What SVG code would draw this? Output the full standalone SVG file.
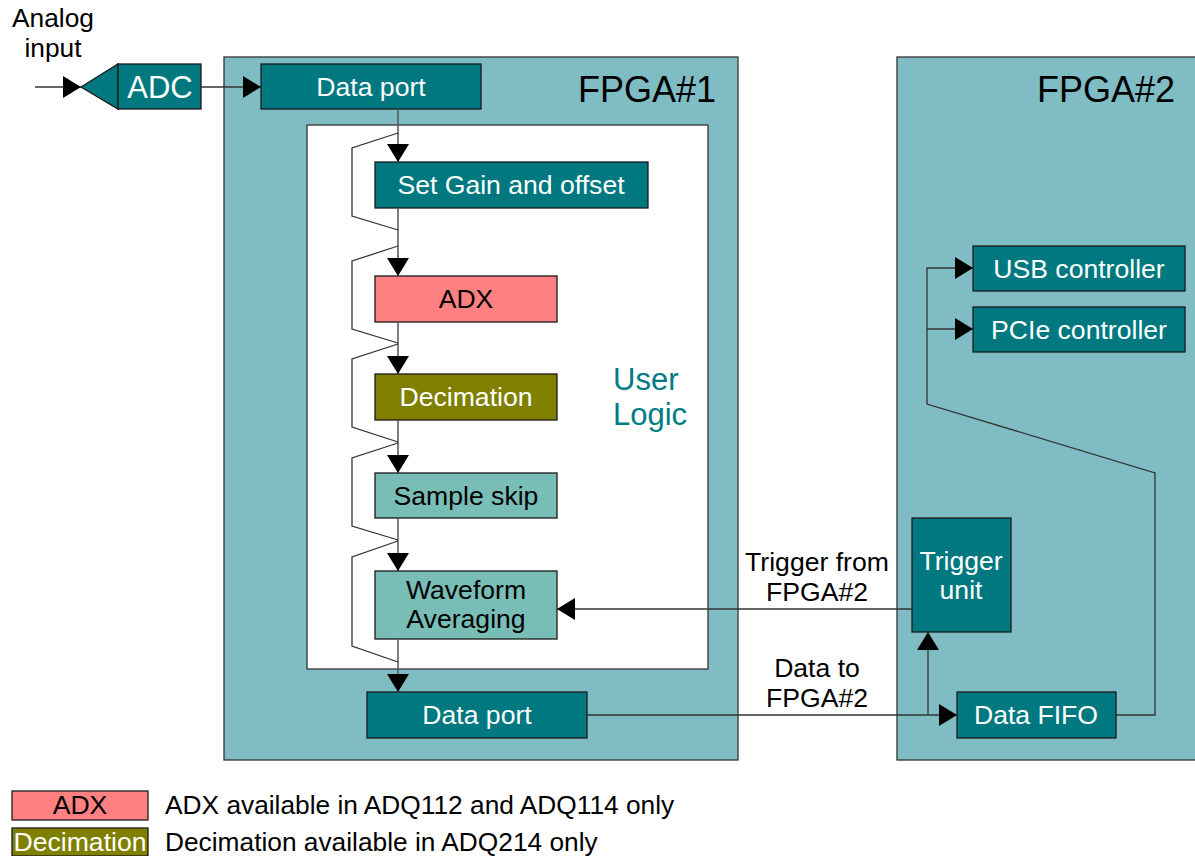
<svg xmlns="http://www.w3.org/2000/svg" width="1195" height="856" viewBox="0 0 1195 856">
  <style>
    text { font-family: "Liberation Sans", Arial, sans-serif; }
    .fpga { fill: #80bcc4; stroke: #333; stroke-width: 1.3; }
    .ul { fill: #ffffff; stroke: #333; stroke-width: 1.3; }
    .dark { fill: #007880; stroke: #1a1a1a; stroke-width: 1.3; }
    .light { fill: #79beb6; stroke: #1a1a1a; stroke-width: 1.3; }
    .adx { fill: #ff8080; stroke: #1a1a1a; stroke-width: 1.3; }
    .dec { fill: #808000; stroke: #1a1a1a; stroke-width: 1.3; }
    .wt { fill: #ffffff; font-size: 26.6px; text-anchor: middle; }
    .bt { fill: #000000; font-size: 26.6px; text-anchor: middle; }
    .lbl { fill: #000000; font-size: 26.3px; }
    .title { fill: #000000; font-size: 36px; }
    .big { font-size: 31px; }
    .ulbl { fill: #007c84; font-size: 31px; }
    .wire { fill: none; stroke: #333; stroke-width: 1.3; }
    .flow { fill: none; stroke: #555; stroke-width: 1.5; }
  </style>
  <defs>
    <marker id="arrow" viewBox="0 0 18 22" refX="18" refY="11" markerWidth="18" markerHeight="22" markerUnits="userSpaceOnUse" orient="auto">
      <path d="M0,0 L18,11 L0,22 z" fill="#000"/>
    </marker>
  </defs>

  <!-- FPGA containers -->
  <g id="fpga1">
    <rect class="fpga" x="224" y="57" width="514" height="703"/>
    <text class="title" x="578" y="102">FPGA#1</text>
  </g>
  <g id="fpga2">
    <rect class="fpga" x="897" y="57" width="310" height="703"/>
    <text class="title" x="1037" y="102">FPGA#2</text>
  </g>
  <g id="user-logic">
    <rect class="ul" x="307" y="125" width="401" height="544"/>
    <text class="ulbl" x="613" y="390">User</text>
    <text class="ulbl" x="613" y="425">Logic</text>
  </g>

  <!-- Input -->
  <g id="analog-input">
    <text class="lbl" x="53" y="27" text-anchor="middle">Analog</text>
    <text class="lbl" x="53" y="57" text-anchor="middle">input</text>
  </g>
  <g id="adc">
    <polygon points="81,87 118,64 118,109" fill="#007880" stroke="#1a1a1a" stroke-width="1.3"/>
    <rect class="dark" x="118" y="64" width="83" height="45"/>
    <text class="wt big" x="160" y="98">ADC</text>
  </g>

  <!-- FPGA#1 nodes -->
  <g id="data-port-in">
    <rect class="dark" x="261" y="64" width="220" height="45"/>
    <text class="wt" x="371" y="96">Data port</text>
  </g>
  <g id="gain-offset">
    <rect class="dark" x="375" y="162" width="273" height="46"/>
    <text class="wt" x="511" y="194">Set Gain and offset</text>
  </g>
  <g id="adx">
    <rect class="adx" x="375" y="276" width="182" height="46"/>
    <text class="bt" x="466" y="308">ADX</text>
  </g>
  <g id="decimation">
    <rect class="dec" x="375" y="374" width="182" height="46"/>
    <text class="wt" x="466" y="406">Decimation</text>
  </g>
  <g id="sample-skip">
    <rect class="light" x="375" y="473" width="182" height="45"/>
    <text class="bt" x="466" y="505">Sample skip</text>
  </g>
  <g id="waveform-averaging">
    <rect class="light" x="375" y="571" width="182" height="68"/>
    <text class="bt" x="466" y="599">Waveform</text>
    <text class="bt" x="466" y="628">Averaging</text>
  </g>
  <g id="data-port-out">
    <rect class="dark" x="367" y="692" width="220" height="46"/>
    <text class="wt" x="477" y="724">Data port</text>
  </g>

  <!-- FPGA#2 nodes -->
  <g id="usb-controller">
    <rect class="dark" x="973" y="246" width="212" height="45"/>
    <text class="wt" x="1079" y="278">USB controller</text>
  </g>
  <g id="pcie-controller">
    <rect class="dark" x="973" y="307" width="212" height="45"/>
    <text class="wt" x="1079" y="339">PCIe controller</text>
  </g>
  <g id="trigger-unit">
    <rect class="dark" x="912" y="518" width="99" height="114"/>
    <text class="wt" x="961" y="570">Trigger</text>
    <text class="wt" x="961" y="599">unit</text>
  </g>
  <g id="data-fifo">
    <rect class="dark" x="957" y="692" width="159" height="46"/>
    <text class="wt" x="1036" y="724">Data FIFO</text>
  </g>

  <!-- Connectors -->
  <g id="connectors">
    <path class="wire" d="M35,87 L81,87" marker-end="url(#arrow)"/>
    <path class="wire" d="M201,87 L261,87" marker-end="url(#arrow)"/>

    <!-- processing chain -->
    <path class="flow" d="M398,109 L398,162" marker-end="url(#arrow)"/>
    <path class="flow" d="M398,208 L398,276" marker-end="url(#arrow)"/>
    <path class="flow" d="M398,322 L398,374" marker-end="url(#arrow)"/>
    <path class="flow" d="M398,420 L398,473" marker-end="url(#arrow)"/>
    <path class="flow" d="M398,518 L398,571" marker-end="url(#arrow)"/>
    <path class="flow" d="M398,639 L398,692" marker-end="url(#arrow)"/>

    <!-- bypass paths around each stage -->
    <path class="wire" d="M398,133 L352,148 L352,216 L398,230 M398,246 L352,261 L352,329 L398,343 M398,344 L352,359 L352,427 L398,442 M398,443 L352,458 L352,526 L398,540 M398,541 L352,557 L352,646 L398,662"/>

    <!-- inter-FPGA links -->
    <path class="wire" d="M912,609 L557,609" marker-end="url(#arrow)"/>
    <path class="wire" d="M587,715 L957,715" marker-end="url(#arrow)"/>
    <path class="wire" d="M928,715 L928,632" marker-end="url(#arrow)"/>

    <!-- FIFO to host controllers -->
    <path class="wire" d="M1116,715 L1155,715 L1155,473 L927,404 L927,268 L973,268" marker-end="url(#arrow)"/>
    <path class="wire" d="M927,329 L973,329" marker-end="url(#arrow)"/>

    <text class="bt" x="817" y="571">Trigger from</text>
    <text class="bt" x="817" y="601">FPGA#2</text>
    <text class="bt" x="817" y="677">Data to</text>
    <text class="bt" x="817" y="707">FPGA#2</text>
  </g>

  <!-- Legend -->
  <g id="legend-adx">
    <rect class="adx" x="12" y="791" width="136" height="29"/>
    <text class="bt" x="80" y="814">ADX</text>
    <text class="lbl" x="165" y="814">ADX available in ADQ112 and ADQ114 only</text>
  </g>
  <g id="legend-decimation">
    <rect class="dec" x="12" y="828" width="136" height="28"/>
    <text class="wt" x="80" y="851">Decimation</text>
    <text class="lbl" x="165" y="851">Decimation available in ADQ214 only</text>
  </g>
</svg>
